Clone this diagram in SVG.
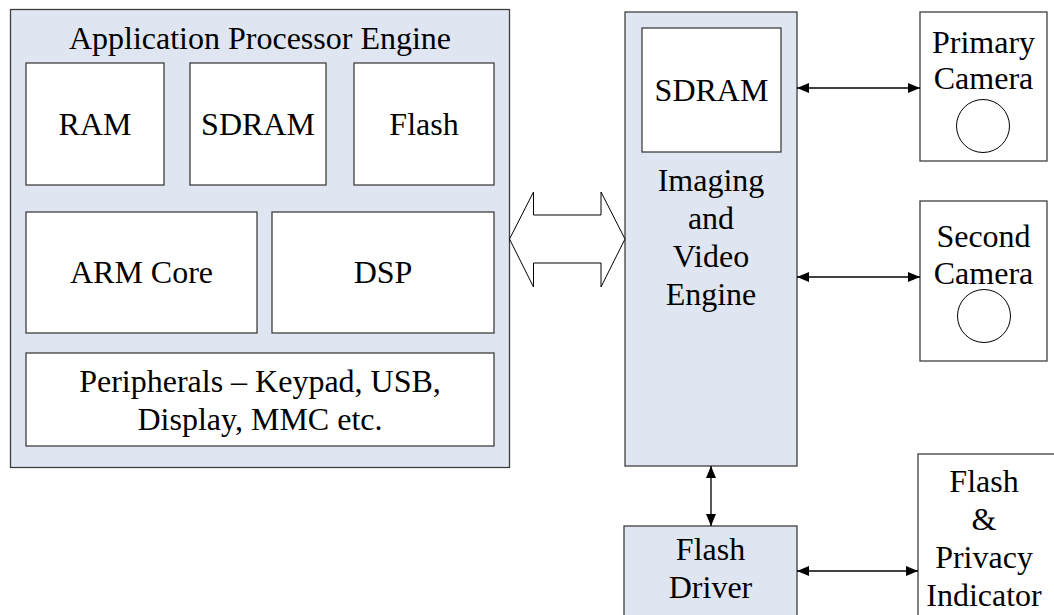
<svg xmlns="http://www.w3.org/2000/svg" width="1054" height="615" viewBox="0 0 1054 615">
<defs>
<marker id="ah" viewBox="0 0 12 10" refX="12" refY="5" markerWidth="12" markerHeight="10" markerUnits="userSpaceOnUse" orient="auto-start-reverse">
<path d="M0,0 L12,5 L0,10 Z" fill="#000"/>
</marker>
</defs>
<style>
.eng{fill:#dfe6f1;stroke:#3f3f3f;stroke-width:1.3}
.box{fill:#fff;stroke:#3f3f3f;stroke-width:1.3}
text{font-size:32px;fill:#000;text-anchor:middle}
.c{fill:#fff;stroke:#000;stroke-width:1}
.ln{stroke:#000;stroke-width:1.3;fill:none;marker-start:url(#ah);marker-end:url(#ah)}
</style>
<rect width="1054" height="615" fill="#fff"/>
<g font-family="Liberation Serif, Tinos, DejaVu Serif, serif">
<g id="ape">
<rect class="eng" x="10.5" y="9.5" width="499" height="458"/>
<text x="260" y="49">Application Processor Engine</text>
</g>
<g id="ram"><rect class="box" x="26" y="63" width="138" height="122"/><text x="95" y="135">RAM</text></g>
<g id="sdram1"><rect class="box" x="190" y="63" width="136" height="122"/><text x="258" y="135">SDRAM</text></g>
<g id="flash1"><rect class="box" x="354" y="63" width="140" height="122"/><text x="424" y="135">Flash</text></g>
<g id="arm"><rect class="box" x="26" y="212" width="231" height="121"/><text x="141.5" y="283">ARM Core</text></g>
<g id="dsp"><rect class="box" x="272" y="212" width="222" height="121"/><text x="383" y="283">DSP</text></g>
<g id="periph"><rect class="box" x="26" y="353" width="468" height="93"/><text x="260" y="392">Peripherals – Keypad, USB,</text><text x="260" y="430">Display, MMC etc.</text></g>
<g id="ive">
<rect class="eng" x="625" y="12" width="172" height="454"/>
<text x="711" y="191">Imaging</text>
<text x="711" y="229">and</text>
<text x="711" y="267">Video</text>
<text x="711" y="305">Engine</text>
</g>
<g id="sdram2"><rect class="box" x="642" y="28" width="139" height="124"/><text x="711.5" y="101">SDRAM</text></g>
<g id="cam1"><rect class="box" x="920" y="12" width="127" height="149"/><text x="983.5" y="53">Primary</text><text x="983.5" y="89">Camera</text><circle class="c" cx="983" cy="126" r="26.5"/></g>
<g id="cam2"><rect class="box" x="920" y="201" width="127" height="160"/><text x="983.5" y="247">Second</text><text x="983.5" y="284">Camera</text><circle class="c" cx="984" cy="316" r="26.5"/></g>
<g id="fdrv"><rect class="eng" x="624" y="526" width="173" height="100"/><text x="710.5" y="560">Flash</text><text x="710.5" y="598">Driver</text></g>
<g id="fpi"><rect class="box" x="918" y="454" width="150" height="170"/><text x="984" y="492">Flash</text><text x="984" y="530">&amp;</text><text x="984" y="568">Privacy</text><text x="984" y="606">Indicator</text></g>
</g>
<g id="connectors">
<path d="M509.5,239 L533.5,192 L533.5,215 L601,215 L601,192 L625,239 L601,287 L601,263 L533.5,263 L533.5,287 Z" fill="#fff" stroke="#000" stroke-width="1"/>
<line class="ln" x1="797" y1="88" x2="920" y2="88"/>
<line class="ln" x1="797" y1="277" x2="920" y2="277"/>
<line class="ln" x1="711" y1="466" x2="711" y2="526"/>
<line class="ln" x1="797" y1="571" x2="918" y2="571"/>
</g>
</svg>
